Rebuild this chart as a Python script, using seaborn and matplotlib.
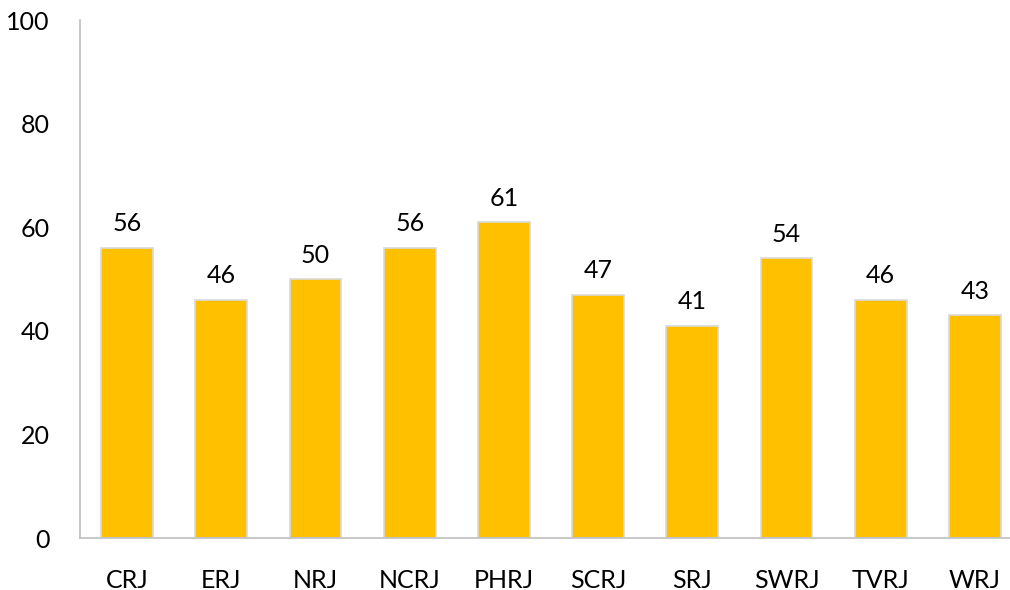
import matplotlib
matplotlib.use("Agg")
import matplotlib.pyplot as plt
import seaborn as sns
import pandas as pd

regions = ["CRJ", "ERJ", "NRJ", "NCRJ", "PHRJ", "SCRJ", "SRJ", "SWRJ", "TVRJ", "WRJ"]
scores = [56, 46, 50, 56, 61, 47, 41, 54, 46, 43]
yticks = [0, 20, 40, 60, 80, 100]

df = pd.DataFrame({"region": regions, "score": scores})

sns.set_style("white")
plt.rcParams['font.family'] = ['Lato', 'DejaVu Sans']

fig = plt.figure(figsize=(10.1, 5.9), dpi=100)
ax = fig.add_axes([0.0792, 0.0881, 0.9327, 0.8780])

sns.barplot(data=df, x="region", y="score", color="#FFC000", saturation=1,
            width=0.55, edgecolor="#D9D9D9", linewidth=1.2, ax=ax)

for c in ax.containers:
    ax.bar_label(c, padding=9, fontsize=18, color="black")

ax.set_ylim(0, 100)
ax.set_yticks(yticks)
ax.set_xlim(-0.5, len(regions) - 0.5)
ax.set_xlabel("")
ax.set_ylabel("")
ax.tick_params(axis="both", length=0, labelsize=18, colors="black")
ax.tick_params(axis="x", pad=22)
ax.tick_params(axis="y", pad=22)
for s in ["top", "right"]:
    ax.spines[s].set_visible(False)
for s in ["left", "bottom"]:
    ax.spines[s].set_color("#BFBFBF")
    ax.spines[s].set_linewidth(1.2)

fig.savefig("out.png", dpi=100)
